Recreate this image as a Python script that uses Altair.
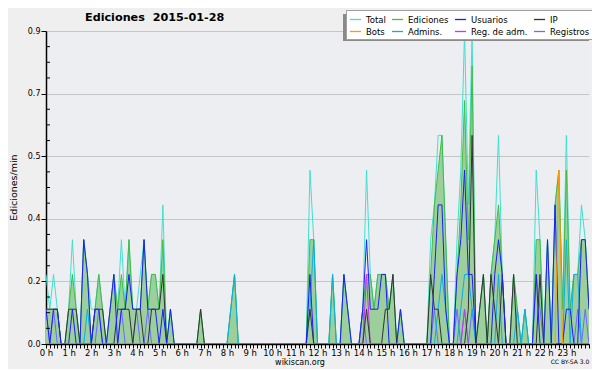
import altair as alt
import pandas as pd

# Edits per minute in 10-minute bins, from 0 h to 24 h (145 points, 6 per row = 1 hour)
total = [
    .2, .1, .2, .1, 0, 0,      # 0 h
    .1, .3, .1, 0, .3, .2,     # 1 h
    .1, .1, .2, .1, 0, .1,     # 2 h
    .2, .1, .3, .1, .3, .1,    # 3 h
    .1, .2, .3, .1, .2, .2,    # 4 h
    .1, .4, 0, .1, 0, 0,       # 5 h
    0, 0, 0, 0, 0, .1,         # 6 h
    0, 0, 0, 0, 0, 0,          # 7 h
    0, .1, .2, 0, 0, 0,        # 8 h
    0, 0, 0, 0, 0, 0,          # 9 h
    0, 0, 0, 0, 0, 0,          # 10 h
    0, 0, 0, 0, .5, .3,        # 11 h
    0, 0, 0, 0, .2, 0,         # 12 h
    0, .2, .1, 0, 0, 0,        # 13 h
    .1, .5, .2, .1, .2, .2,    # 14 h
    .2, .1, .2, 0, .1, 0,      # 15 h
    0, 0, 0, 0, 0, 0,          # 16 h
    .3, .4, .6, .6, .3, 0,     # 17 h
    0, .3, .5, .9, .4, .9,     # 18 h
    0, .1, .2, 0, .2, .3,      # 19 h
    .6, .2, 0, 0, .2, .1,      # 20 h
    0, .1, 0, 0, .5, .3,       # 21 h
    0, .3, 0, .4, .5, .1,      # 22 h
    .6, .1, .2, .2, .4, .3,    # 23 h
    .1,
]
ediciones = [
    .1, .1, .1, .1, 0, 0,
    .1, .2, .1, 0, .3, .2,
    0, .1, .2, .1, 0, .1,
    .2, .1, .2, .1, .3, .1,
    .1, .1, .3, .1, .2, .2,
    .1, .3, 0, .1, 0, 0,
    0, 0, 0, 0, 0, .1,
    0, 0, 0, 0, 0, 0,
    0, .1, .2, 0, 0, 0,
    0, 0, 0, 0, 0, 0,
    0, 0, 0, 0, 0, 0,
    0, 0, 0, 0, .3, .3,
    0, 0, 0, 0, .2, 0,
    0, .2, .1, 0, 0, 0,
    .1, .2, .2, .1, .2, .2,
    .2, .1, .2, 0, .1, 0,
    0, 0, 0, 0, 0, 0,
    .2, .4, .5, .6, .3, 0,
    0, .2, .4, .7, .3, .8,
    0, .1, .2, 0, .2, .3,
    .4, .2, 0, 0, .2, .1,
    0, .1, 0, 0, .3, .3,
    0, .3, 0, .4, .5, .1,
    .5, .1, .2, .2, .3, .3,
    .1,
]
usuarios = [
    .1, 0, .1, .1, 0, 0,
    0, .1, 0, 0, .3, .2,
    0, .1, .1, 0, 0, .1,
    .2, 0, .1, .1, .2, .1,
    .1, .1, .3, .1, .1, .1,
    0, .1, 0, .1, 0, 0,
    0, 0, 0, 0, 0, 0,
    0, 0, 0, 0, 0, 0,
    0, 0, 0, 0, 0, 0,
    0, 0, 0, 0, 0, 0,
    0, 0, 0, 0, 0, 0,
    0, 0, 0, 0, .2, 0,
    0, 0, 0, 0, 0, 0,
    0, .2, .1, 0, 0, 0,
    .1, .3, .1, .1, .1, .2,
    .2, 0, 0, 0, .1, 0,
    0, 0, 0, 0, 0, 0,
    0, .2, .4, .4, .1, 0,
    0, .2, .3, .5, .2, .2,
    0, 0, 0, 0, 0, .2,
    .3, .2, 0, 0, 0, 0,
    0, 0, 0, 0, .2, 0,
    0, .3, 0, .4, 0, 0,
    .1, .1, 0, 0, .3, .3,
    .1,
]
ip = [
    .1, .1, .1, .1, 0, 0,
    .1, .1, .1, 0, 0, 0,
    0, .1, .1, .1, 0, 0,
    0, .1, .1, .1, .1, 0,
    .1, .1, 0, 0, .1, .1,
    .1, .2, 0, 0, 0, 0,
    0, 0, 0, 0, 0, .1,
    0, 0, 0, 0, 0, 0,
    0, 0, 0, 0, 0, 0,
    0, 0, 0, 0, 0, 0,
    0, 0, 0, 0, 0, 0,
    0, 0, 0, 0, .1, 0,
    0, 0, 0, 0, 0, 0,
    0, 0, 0, 0, 0, 0,
    0, .1, 0, 0, 0, 0,
    .1, .1, .2, 0, 0, 0,
    0, 0, 0, 0, 0, 0,
    .2, .1, .1, 0, 0, 0,
    0, 0, 0, 0, .1, .6,
    0, .1, .2, 0, .2, .1,
    0, .2, 0, 0, .2, 0,
    0, 0, 0, 0, 0, .2,
    0, 0, 0, 0, 0, 0,
    0, 0, 0, 0, 0, 0,
    0,
]
bots = [0] * 136 + [.5] + [0] * 8
admins = [
    0, 0, 0, 0, 0, 0,
    0, 0, 0, 0, 0, .1,
    0, 0, 0, 0, 0, 0,
    0, 0, 0, 0, 0, 0,
    0, 0, 0, 0, 0, 0,
    0, 0, 0, 0, 0, 0,
    0, 0, 0, 0, 0, 0,
    0, 0, 0, 0, 0, 0,
    0, .1, .2, 0, 0, 0,
    0, 0, 0, 0, 0, 0,
    0, 0, 0, 0, 0, 0,
    0, 0, 0, 0, .1, .3,
    0, 0, 0, 0, .2, 0,
    0, 0, 0, 0, 0, 0,
    0, 0, 0, 0, 0, 0,
    0, 0, 0, 0, 0, 0,
    0, 0, 0, 0, 0, 0,
    0, 0, .1, .2, .1, 0,
    0, 0, .1, .2, .2, .1,
    0, 0, 0, 0, 0, 0,
    .2, 0, 0, 0, 0, .1,
    0, .1, 0, 0, 0, 0,
    0, 0, 0, 0, 0, 0,
    .3, 0, .2, .2, 0, 0,
    0,
]
reg_adm = [0] * 85 + [.2] + [0] * 25 + [.1] + [0] * 33
registros = [
    .1, 0, .1, 0, 0, 0,
    0, 0, 0, 0, 0, 0,
    0, 0, .1, 0, 0, 0,
    0, 0, .1, 0, 0, 0,
    .1, 0, 0, .1, 0, 0,
    0, 0, 0, 0, 0, 0,
    0, 0, 0, 0, 0, 0,
    0, 0, 0, 0, 0, 0,
    0, 0, 0, 0, 0, 0,
    0, 0, 0, 0, 0, 0,
    0, 0, 0, 0, 0, 0,
    0, 0, 0, 0, 0, 0,
    0, 0, 0, 0, 0, 0,
    0, 0, 0, 0, 0, 0,
    .1, 0, 0, 0, 0, 0,
    0, 0, 0, 0, 0, 0,
    0, 0, 0, 0, 0, 0,
    0, .1, 0, 0, 0, 0,
    0, .1, 0, .1, 0, .1,
    0, 0, 0, 0, 0, 0,
    0, 0, 0, 0, 0, 0,
    0, 0, 0, 0, .2, .1,
    0, 0, 0, 0, 0, 0,
    0, 0, 0, .1, 0, .1,
    0,
]

names = ["Total", "Ediciones", "Usuarios", "IP", "Bots", "Admins.", "Reg. de adm.", "Registros"]
colors = ["#40e0d0", "#44bb44", "#1c1cff", "#333333", "#ff9900", "#0aaee6", "#cc33ee", "#6b6bff"]
series_values = [total, ediciones, usuarios, ip, bots, admins, reg_adm, registros]
draw_order = ["Total", "Ediciones", "Registros", "Reg. de adm.", "Admins.", "IP", "Usuarios", "Bots"]

rows = []
for name in draw_order:
    vals = series_values[names.index(name)]
    for i, v in enumerate(vals):
        rows.append({"hour": i / 6, "value": v, "series": name})
df = pd.DataFrame(rows)
df_ed = pd.DataFrame({"hour": [i / 6 for i in range(len(ediciones))], "value": ediciones})

x_ticks = [i / 6 for i in range(145)]
y_major = [0, 0.18, 0.36, 0.54, 0.72, 0.9]
y_minor = [round(k * 0.045, 3) for k in range(1, 20) if k % 4 != 0]

FONT = "DejaVu Sans"

x_axis = alt.Axis(
    values=x_ticks,
    labelExpr="(datum.value % 1 == 0 && datum.value < 24) ? datum.value + ' h' : ''",
    labelOverlap=False, labelFlush=False, labelBound=False,
    ticks=True, tickSize=4, tickColor="black", tickWidth=1,
    domain=True, domainColor="black", domainWidth=1.5,
    labelFont=FONT, labelFontSize=8.5, labelColor="black", labelPadding=0,
    grid=False, title=None,
)
y_axis = alt.Axis(
    values=y_major, format=".1f", ticks=True, tickSize=5, tickColor="black", tickWidth=1,
    domain=True, domainColor="black", domainWidth=1.5,
    labelFont=FONT, labelFontSize=8, labelColor="black", labelPadding=1,
    labelOverlap=False,
    grid=True, gridColor="#c6c6c6", gridWidth=1,
    title="Ediciones/min", titleFont=FONT, titleFontSize=9.5, titleFontWeight="normal",
    titleColor="black", titleX=-28, titleY=156, titleAngle=270,
    titleBaseline="bottom", titleAlign="center",
)
x_scale = alt.Scale(domain=[0, 24], nice=False, zero=False)
y_scale = alt.Scale(domain=[0, 0.9], nice=False)

def xe():
    return alt.X("hour:Q", scale=x_scale, axis=x_axis)

def ye(field="value"):
    return alt.Y(field + ":Q", scale=y_scale, axis=y_axis, title="Ediciones/min")

area = alt.Chart(df_ed).mark_area(color="#9dcf9d", opacity=1, clip=True).encode(x=xe(), y=ye())

lines = alt.Chart(df).mark_line(strokeWidth=1, clip=True).encode(
    x=xe(),
    y=ye(),
    color=alt.Color(
        "series:N",
        scale=alt.Scale(domain=names, range=colors),
        legend=alt.Legend(
            orient="none", legendX=300, legendY=-21, direction="horizontal", columns=4,
            title=None, symbolType="stroke", symbolStrokeWidth=1.3, symbolSize=121,
            labelFont=FONT, labelFontSize=8.5, labelColor="black", labelOffset=4,
            fillColor="white", strokeColor="#a0a0a0", padding=3, rowPadding=1,
            columnPadding=3,
        ),
    ),
)

minor = alt.Chart(pd.DataFrame({"value": y_minor})).mark_rule(color="black", strokeWidth=1).encode(
    y=ye(), x=alt.value(0), x2=alt.value(4)
)

shadow = alt.Chart(pd.DataFrame({"a": [0]})).mark_rect(color="#8a8a8a").encode(
    x=alt.value(297), x2=alt.value(543), y=alt.value(-17), y2=alt.value(10)
)

heading = alt.Chart(pd.DataFrame({"t": ["Ediciones\u00a0 2015-01-28"]})).mark_text(
    font=FONT, fontSize=11.2, fontWeight="bold", color="black", align="left", baseline="alphabetic"
).encode(text="t:N", x=alt.value(39), y=alt.value(-10))

site = alt.Chart(pd.DataFrame({"t": ["wikiscan.org"]})).mark_text(
    font=FONT, fontSize=8, color="black", align="center", baseline="alphabetic"
).encode(text="t:N", x=alt.value(254), y=alt.value(334))

lic = alt.Chart(pd.DataFrame({"t": ["CC BY-SA 3.0"]})).mark_text(
    font=FONT, fontSize=6, color="black", align="center", baseline="alphabetic"
).encode(text="t:N", x=alt.value(524), y=alt.value(333))

chart = alt.layer(area, lines, minor, shadow, heading, site, lic).properties(
    width=543,
    height=313,
    padding={"left": 38, "top": 23, "right": 3, "bottom": 25},
    autosize=alt.AutoSizeParams(type="none"),
).configure(background="#efefef").configure_view(fill="#eceef1", strokeWidth=0)

chart.save("out.html", embed_options={"renderer": "svg", "actions": False})
